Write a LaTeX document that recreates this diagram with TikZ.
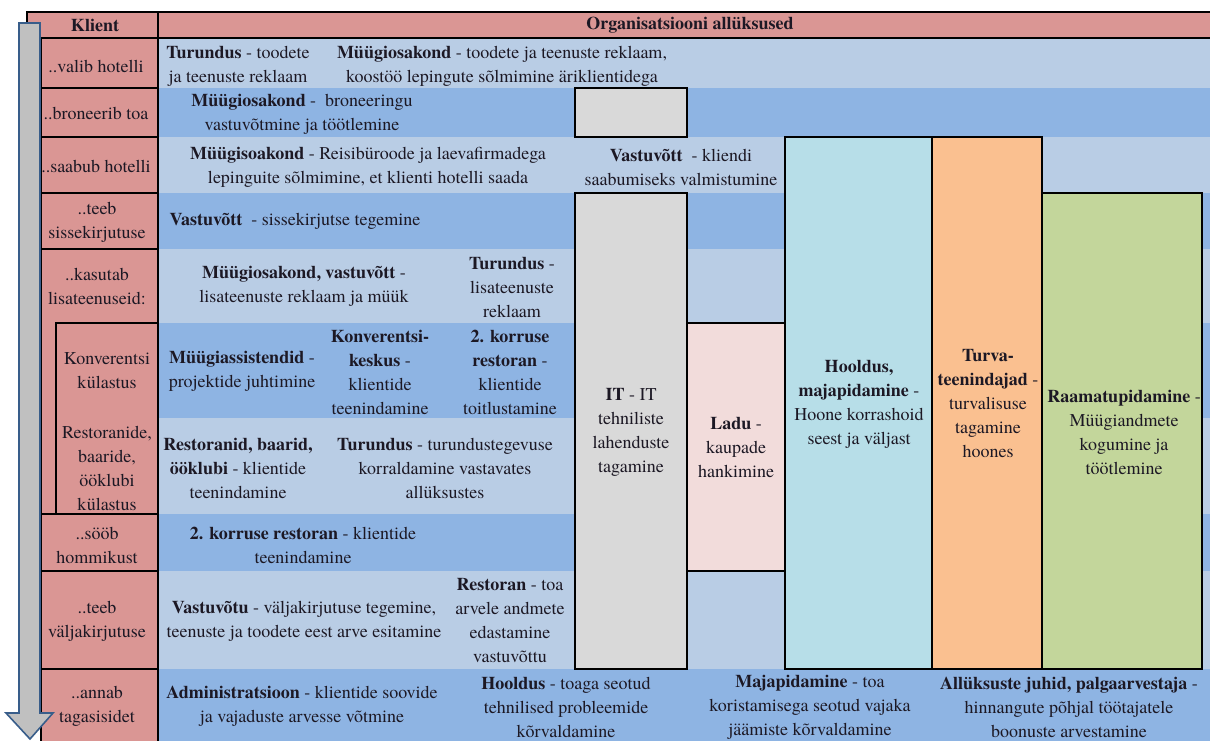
\documentclass[tikz,border=0pt]{standalone}
\usepackage{fontspec}
\setmainfont{texgyretermes}[Extension=.otf, UprightFont=*-regular, BoldFont=*-bold, ItalicFont=*-italic, BoldItalicFont=*-bolditalic]
\definecolor{klientpink}{RGB}{218,150,148}
\definecolor{bandlight}{RGB}{185,205,229}
\definecolor{bandmid}{RGB}{142,180,227}
\definecolor{itgray}{RGB}{217,217,217}
\definecolor{ladupink}{RGB}{242,220,219}
\definecolor{hooldusblue}{RGB}{183,222,232}
\definecolor{turvaorange}{RGB}{250,192,144}
\definecolor{raamatgreen}{RGB}{195,214,155}
\definecolor{arrowgray}{RGB}{192,192,192}
\definecolor{arrowedge}{RGB}{56,93,138}
\definecolor{inkdark}{RGB}{28,24,36}
\begin{document}
\begin{tikzpicture}[x=1pt,y=-1pt,
  cellline/.style={draw=black, line width=2.5pt},
  pinkcell/.style={cellline, fill=klientpink},
  colbox/.style={cellline},
  txt/.style={font=\fontsize{18}{24}\selectfont, align=center, inner sep=0pt, text=inkdark}]
\useasboundingbox (0,0) rectangle (1210,740);

% horizontal bands of the process steps
\fill[bandlight] (158,38)  rectangle (1212,88);
\fill[bandmid]   (158,88)  rectangle (1212,137);
\fill[bandlight] (158,137) rectangle (1212,193);
\fill[bandmid]   (158,193) rectangle (1212,249);
\fill[bandlight] (158,249) rectangle (1212,323);
\fill[bandmid]   (158,323) rectangle (1212,418);
\fill[bandlight] (158,418) rectangle (1212,514);
\fill[bandmid]   (158,514) rectangle (1212,571);
\fill[bandlight] (158,571) rectangle (1212,669);
\fill[bandmid]   (158,669) rectangle (1212,742);

% client column
\draw[pinkcell] (41,38)  rectangle (158,88);
\draw[pinkcell] (41,88)  rectangle (158,137);
\draw[pinkcell] (41,137) rectangle (158,193);
\draw[pinkcell] (41,193) rectangle (158,249);
\draw[pinkcell] (41,249) rectangle (158,514);
\draw[cellline] (56,323) rectangle (158,514);
\draw[pinkcell] (41,514) rectangle (158,571);
\draw[pinkcell] (41,571) rectangle (158,669);
\draw[pinkcell] (41,669) rectangle (158,745);

% header row
\draw[pinkcell] (27,12)  rectangle (158,38);
\draw[pinkcell] (158,12) rectangle (1214,38);

% department columns
\draw[colbox, fill=itgray]      (575,88)   rectangle (687,137);
\draw[colbox, fill=itgray]      (575,193)  rectangle (687,669);
\draw[colbox, fill=ladupink]    (687,323)  rectangle (785,571);
\draw[colbox, fill=hooldusblue] (785,137)  rectangle (932,669);
\draw[colbox, fill=turvaorange] (932,137)  rectangle (1042,669);
\draw[colbox, fill=raamatgreen] (1042,193) rectangle (1202,669);

% time arrow along the client steps
\draw[draw=arrowedge, fill=arrowgray, line width=1.6pt, line join=miter]
  (19,23) -- (40,23) -- (40,713) -- (53,713) -- (30,739) -- (6,713) -- (19,713) -- cycle;

% headers
\node[txt] (hklient) at (95,25)  {\textbf{Klient}};
\node[txt] (horg)    at (690,25) {\textbf{Organisatsiooni allüksused}};

% client steps
\node[txt] (k1)  at (96,66)    {..valib hotelli};
\node[txt] (k2)  at (96,113)   {..broneerib toa};
\node[txt] (k3)  at (96,166)   {..saabub hotelli};
\node[txt] (k4)  at (97,222)   {..teeb\\sissekirjutuse};
\node[txt] (k5)  at (97,286)   {..kasutab\\lisateenuseid:};
\node[txt] (k6)  at (107,371)  {Konverentsi\\külastus};
\node[txt] (k7)  at (107,468)  {Restoranide,\\baaride,\\ööklubi\\külastus};
\node[txt] (k8)  at (97,545)   {..sööb\\hommikust};
\node[txt] (k9)  at (97,621)   {..teeb\\väljakirjutuse};
\node[txt] (k10) at (97,706)   {..annab\\tagasisidet};

% responsibilities per step
\node[txt] (r1a) at (238,66)  {\textbf{Turundus} - toodete\\ja teenuste reklaam};
\node[txt] (r1b) at (502,66)  {\textbf{Müügiosakond} - toodete ja teenuste reklaam,\\koostöö lepingute sõlmimine äriklientidega};
\node[txt] (r2)  at (302,114) {\textbf{Müügiosakond} -~ broneeringu\\vastuvõtmine ja töötlemine};
\node[txt] (r3a) at (368,167) {\textbf{Müügisoakond} - Reisibüroode ja laevafirmadega\\lepinguite sõlmimine, et klienti hotelli saada};
\node[txt] (r3b) at (681,167) {\textbf{Vastuvõtt} ~- kliendi\\saabumiseks valmistumine};
\node[txt] (r4)  at (295,221) {\textbf{Vastuvõtt} ~- sissekirjutse tegemine};
\node[txt] (r5a) at (304,286) {\textbf{Müügiosakond, vastuvõtt} -\\lisateenuste reklaam ja müük};
\node[txt] (r5b) at (512,287) {\textbf{Turundus} -\\lisateenuste\\reklaam};
\node[txt] (r6a) at (242,371) {\textbf{Müügiassistendid} -\\projektide juhtimine};
\node[txt] (r6b) at (380,372) {\textbf{Konverentsi-}\\\textbf{keskus} -\\klientide\\teenindamine};
\node[txt] (r6c) at (510,372) {\textbf{2. korruse}\\\textbf{restoran} -\\klientide\\toitlustamine};
\node[txt] (r7a) at (238,468) {\textbf{Restoranid, baarid,}\\\textbf{ööklubi} - klientide\\teenindamine};
\node[txt] (r7b) at (445,468) {\textbf{Turundus} - turundustegevuse\\korraldamine vastavates\\allüksustes};
\node[txt] (r8)  at (303,545) {\textbf{2. korruse restoran} - klientide\\teenindamine};
\node[txt] (r9a) at (304,621) {\textbf{Vastuvõtu} - väljakirjutuse tegemine,\\teenuste ja toodete eest arve esitamine};
\node[txt] (r9b) at (510,621) {\textbf{Restoran} - toa\\arvele andmete\\edastamine\\vastuvõttu};
\node[txt] (r10a) at (302,706) {\textbf{Administratsioon} - klientide soovide\\ja vajaduste arvesse võtmine};
\node[txt] (r10b) at (566,707) {\textbf{Hooldus} - toaga seotud\\tehnilised probleemide\\kõrvaldamine};
\node[txt] (r10c) at (810,707) {\textbf{Majapidamine} - toa\\koristamisega seotud vajaka\\jäämiste kõrvaldamine};
\node[txt] (r10d) at (1069,707) {\textbf{Allüksuste juhid, palgaarvestaja} -\\hinnangute põhjal töötajatele\\boonuste arvestamine};

% department column labels
\node[txt] (bit)    at (631,432)  {\textbf{IT} - IT\\tehniliste\\lahenduste\\tagamine};
\node[txt] (bladu)  at (736,447)  {\textbf{Ladu} -\\kaupade\\hankimine};
\node[txt] (bhool)  at (859,404)  {\textbf{Hooldus,}\\\textbf{majapidamine} -\\Hoone korrashoid\\seest ja väljast};
\node[txt] (bturva) at (988,403)  {\textbf{Turva-}\\\textbf{teenindajad} -\\turvalisuse\\tagamine\\hoones};
\node[txt] (braam)  at (1124,432) {\textbf{Raamatupidamine} -\\Müügiandmete\\kogumine ja\\töötlemine};
\end{tikzpicture}
\end{document}
